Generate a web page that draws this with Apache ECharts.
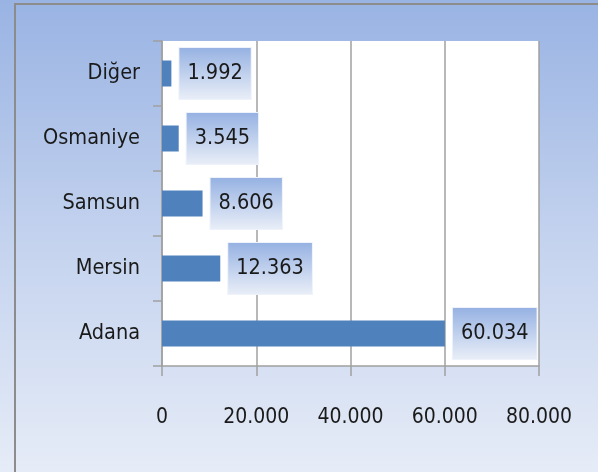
<!DOCTYPE html>
<html>
<head>
<meta charset="utf-8">
<script src="https://cdn.jsdelivr.net/npm/echarts@6/dist/echarts.min.js"></script>
<style>
  html, body { margin: 0; padding: 0; background: #fff; }
  #frame { position: absolute; left: 14px; top: 3px; width: 584px; height: 469px;
           border-left: 2px solid #8c8c8c; border-top: 2px solid #8c8c8c; box-sizing: border-box; }
  #chart { position: absolute; left: 0; top: 0; width: 598px; height: 472px; }
</style>
</head>
<body>
<div id="chart"></div>
<div id="frame"></div>
<script>
const categories = ['Adana', 'Mersin', 'Samsun', 'Osmaniye', 'Diğer']
const values = [60034, 12363, 8606, 3545, 1992]
const axisMin = 0
const axisMax = 80000
const axisStep = 20000

const font = "'Liberation Sans Narrow', 'DejaVu Sans Condensed', 'Open Sans Condensed', Roboto, sans-serif"

// 60034 -> "60.034"
function fmt(v) {
  return String(Math.round(v)).replace(/\B(?=(\d{3})+(?!\d))/g, '.')
}

const chart = echarts.init(document.getElementById('chart'))

chart.setOption({
  animation: false,
  backgroundColor: new echarts.graphic.LinearGradient(0, 0, 0, 1, [
    { offset: 0, color: '#99b3e3' },
    { offset: 0.5, color: '#c3d2ee' },
    { offset: 1, color: '#e6ecf7' }
  ]),
  textStyle: { fontFamily: font },
  grid: {
    left: 162, right: 59, top: 41, bottom: 106,
    show: true, backgroundColor: '#ffffff', borderWidth: 0
  },
  xAxis: {
    type: 'value',
    min: axisMin,
    max: axisMax,
    interval: axisStep,
    axisLine: { show: true, lineStyle: { color: '#a0a0a0', width: 1.5 } },
    axisTick: { show: true, length: 10, lineStyle: { color: '#a0a0a0', width: 1.5 } },
    splitLine: { show: true, lineStyle: { color: '#a0a0a0', width: 1.5 } },
    axisLabel: { color: '#1a1a1a', fontSize: 21, margin: 41, formatter: fmt }
  },
  yAxis: {
    type: 'category',
    data: categories,
    axisLine: { show: true, lineStyle: { color: '#a0a0a0', width: 1.5 } },
    axisTick: { show: true, length: 9, lineStyle: { color: '#a0a0a0', width: 1.5 } },
    axisLabel: { color: '#1a1a1a', fontSize: 21.5, margin: 22 }
  },
  series: [{
    type: 'bar',
    data: values,
    barWidth: '40%',
    itemStyle: { color: '#4f81bd' },
    label: {
      show: true,
      position: 'right',
      distance: 8,
      color: '#1a1a1a',
      fontSize: 21.5,
      lineHeight: 25,
      padding: [13, 8, 13, 8],
      borderColor: '#eef2fa',
      borderWidth: 1,
      backgroundColor: new echarts.graphic.LinearGradient(0, 0, 0, 1, [
        { offset: 0, color: '#95b1e2' },
        { offset: 1, color: '#eaeff8' }
      ]),
      formatter: p => fmt(p.value)
    }
  }]
})
</script>
</body>
</html>
